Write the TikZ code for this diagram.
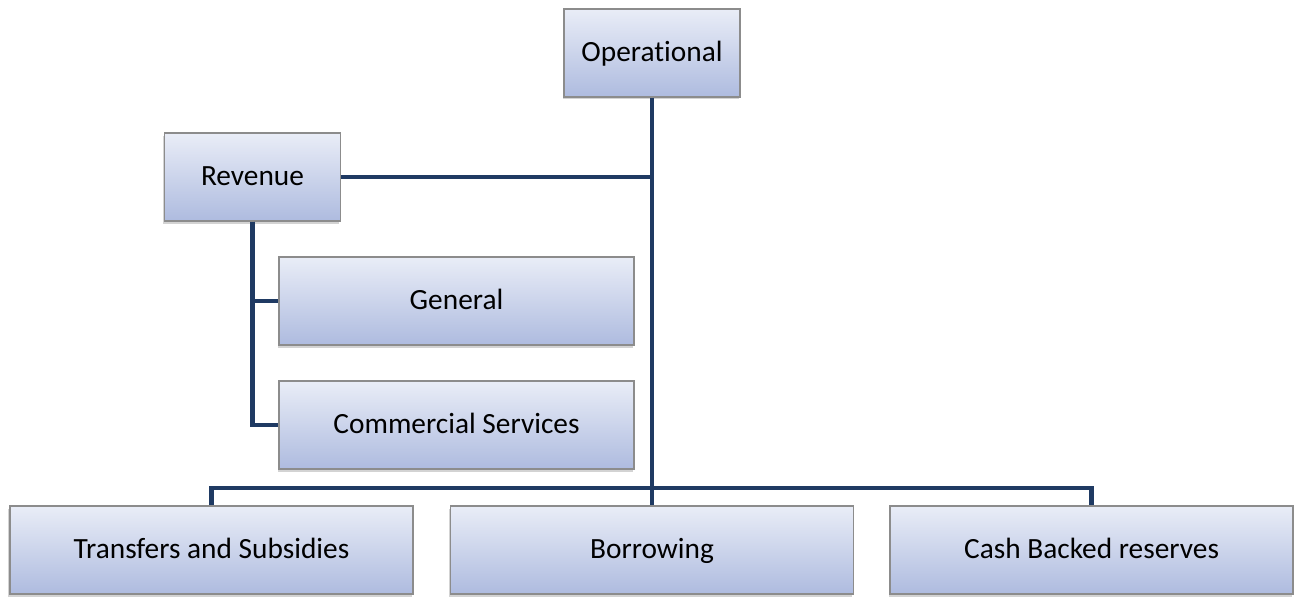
\documentclass[tikz,border=0pt]{standalone}
\usepackage{fontspec}
\setmainfont{Carlito}[Ligatures=NoCommon]
\usetikzlibrary{positioning,shadows}
\definecolor{boxtop}{HTML}{E9EDF7}
\definecolor{boxbot}{HTML}{AEBBDF}
\definecolor{linkblue}{HTML}{1F3A63}
\tikzset{
  bx/.style={rectangle, minimum height=1.76cm, text centered, text height=0.95em, text depth=0em, draw=black!45, line width=0.6pt, top color=boxtop, bottom color=boxbot, font=\fontsize{16.7}{20}\selectfont, drop shadow={shadow xshift=-0.03cm, shadow yshift=-0.05cm, opacity=0.35}},
  sm/.style={bx, minimum width=3.52cm},
  md/.style={bx, minimum width=7.1cm},
  lg/.style={bx, minimum width=8.06cm},
  link/.style={draw=linkblue, line width=2.3pt}
}
\begin{document}
\begin{tikzpicture}
\useasboundingbox (0,0) rectangle (25.98,11.94);
\node[sm] (op) at (13.04,10.88) {Operational};
\node[sm] (rev) at (5.05,8.40) {Revenue};
\node[md] (gen) at (9.13,5.92) {General};
\node[md] (com) at (9.13,3.44) {Commercial Services};
\node[lg] (tra) at (4.23,0.94) {Transfers and Subsidies};
\node[lg] (bor) at (13.04,0.94) {Borrowing};
\node[lg] (cash) at (21.83,0.94) {Cash Backed reserves};
\coordinate (bus) at (0,2.18);
% connectors
\draw[link] (op.south) -- (bor.north);
\draw[link] (rev.east) -- (rev.east -| op.south);
\draw[link] (rev.south) |- (gen.west);
\draw[link] (rev.south) |- (com.west);
\draw[link] (tra.north) -- (tra.north |- bus) -- (cash.north |- bus) -- (cash.north);
\end{tikzpicture}
\end{document}
